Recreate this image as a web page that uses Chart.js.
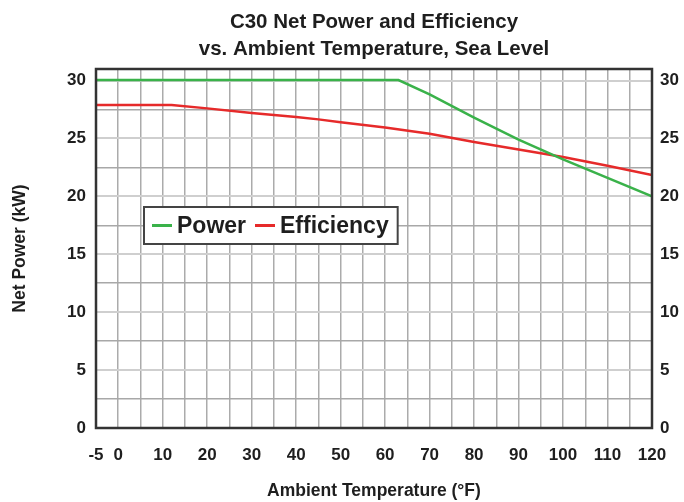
<!DOCTYPE html>
<html>
<head>
<meta charset="utf-8">
<script src="https://cdn.jsdelivr.net/npm/chart.js@4"></script>
<style>
  html, body { margin: 0; padding: 0; background: #fff; }
  #wrap { width: 684px; height: 502px; }
</style>
</head>
<body>
<div id="wrap"><canvas id="myChart" width="684" height="502"></canvas></div>
<script>
// values
const powerTemps = [-5, 63, 70, 80, 90, 100, 110, 120];
const powerKw = [30.05, 30.05, 28.8, 26.8, 24.9, 23.2, 21.6, 20.0];
const effTemps = [-5, 12, 20, 30, 40, 45, 50, 60, 70, 80, 90, 100, 110, 120];
const effValues = [27.9, 27.9, 27.6, 27.2, 26.85, 26.65, 26.4, 25.95, 25.4, 24.7, 24.05, 23.4, 22.65, 21.85];
const xLabelled = [-5, 0, 10, 20, 30, 40, 50, 60, 70, 80, 90, 100, 110, 120];
const yLabelled = [0, 5, 10, 15, 20, 25, 30];

const titleLines = ["C30 Net Power and Efficiency", "vs. Ambient Temperature, Sea Level"];
const fontFamily = "'Liberation Sans', Arial, Helvetica, sans-serif";
const inkColor = "#1e1e1e";

// title, legend box and frame drawn by hand so they sit where the original has them
const decorations = {
  id: "decorations",
  afterDraw(chart) {
    const ctx = chart.ctx;
    const area = chart.chartArea;
    ctx.save();

    // frame round the plot area
    ctx.strokeStyle = "#333";
    ctx.lineWidth = 2.5;
    ctx.strokeRect(area.left, area.top, area.right - area.left, area.bottom - area.top);

    // title
    ctx.fillStyle = inkColor;
    ctx.font = "bold 20.5px " + fontFamily;
    ctx.textAlign = "center";
    ctx.textBaseline = "middle";
    const cx = (area.left + area.right) / 2;
    titleLines.forEach((line, i) => ctx.fillText(line, cx, 22 + i * 27));

    // legend
    const bx = area.left + 48, by = area.top + 138, bh = 37;
    ctx.font = "bold 23px " + fontFamily;
    let x = bx + 8;
    const items = chart.data.datasets.map(ds => {
      const w = ctx.measureText(ds.label).width;
      return { ds, w };
    });
    let total = 8;
    items.forEach(it => { total += 20 + 5 + it.w + 9; });
    ctx.fillStyle = "#fff";
    ctx.fillRect(bx, by, total, bh);
    ctx.strokeStyle = "#444";
    ctx.lineWidth = 2;
    ctx.strokeRect(bx, by, total, bh);
    ctx.textAlign = "left";
    const my = by + bh / 2 + 1;
    items.forEach(it => {
      ctx.strokeStyle = it.ds.borderColor;
      ctx.lineWidth = 3;
      ctx.beginPath();
      ctx.moveTo(x, my - 1);
      ctx.lineTo(x + 20, my - 1);
      ctx.stroke();
      x += 25;
      ctx.fillStyle = inkColor;
      ctx.fillText(it.ds.label, x, my);
      x += it.w + 9;
    });
    ctx.restore();
  }
};

const data = {
  datasets: [
    {
      label: "Power",
      data: powerTemps.map((t, i) => ({ x: t, y: powerKw[i] })),
      borderColor: "rgb(58, 178, 74)",
      borderWidth: 2.5,
      pointRadius: 0,
      tension: 0,
      yAxisID: "y"
    },
    {
      label: "Efficiency",
      data: effTemps.map((t, i) => ({ x: t, y: effValues[i] })),
      borderColor: "rgb(230, 42, 42)",
      borderWidth: 2.5,
      pointRadius: 0,
      tension: 0,
      yAxisID: "y"
    }
  ]
};

const tickFont = { family: fontFamily, size: 17, weight: "bold" };

const config = {
  type: "line",
  data: data,
  plugins: [decorations],
  options: {
    responsive: false,
    animation: false,
    layout: { padding: { top: 69, left: 0, right: 0, bottom: 0 } },
    plugins: {
      legend: { display: false },
      title: { display: false },
      tooltip: { enabled: false }
    },
    scales: {
      x: {
        type: "linear",
        min: -5,
        max: 120,
        afterFit: s => { s.height = 74; },
        border: { display: false },
        grid: { color: "#ababab", lineWidth: 1.5, drawTicks: false },
        ticks: {
          stepSize: 5,
          autoSkip: false,
          maxRotation: 0,
          padding: 17,
          color: inkColor,
          font: tickFont,
          callback: v => (xLabelled.includes(v) ? String(v) : "")
        },
        title: {
          display: true,
          text: "Ambient Temperature (°F)",
          color: inkColor,
          font: { family: fontFamily, size: 17.5, weight: "bold", lineHeight: 1.2 },
          padding: { top: 0, bottom: 0 }
        }
      },
      y: {
        position: "left",
        min: 0,
        max: 31,
        afterFit: s => { s.width = 96; },
        border: { display: false },
        grid: {
          drawTicks: false,
          color: ctx => (ctx.tick && ctx.tick.value % 5 === 0 ? "#cfcfcf" : "#a8a8a8"),
          lineWidth: ctx => (ctx.tick && ctx.tick.value % 5 === 0 ? 2 : 1.5)
        },
        ticks: {
          stepSize: 2.5,
          includeBounds: false,
          autoSkip: false,
          padding: 10,
          color: inkColor,
          font: tickFont,
          callback: v => (yLabelled.includes(v) ? String(v) : "")
        },
        title: {
          display: true,
          text: "Net Power (kW)",
          color: inkColor,
          font: { family: fontFamily, size: 17.5, weight: "bold", lineHeight: 1.2 },
          padding: { top: 10, bottom: 0 }
        }
      },
      y2: {
        position: "right",
        min: 0,
        max: 31,
        afterFit: s => { s.width = 32; },
        border: { display: false },
        grid: { display: false, drawTicks: false },
        ticks: {
          stepSize: 2.5,
          includeBounds: false,
          autoSkip: false,
          padding: 8,
          color: inkColor,
          font: tickFont,
          callback: v => (yLabelled.includes(v) ? String(v) : "")
        }
      }
    }
  }
};

const ctx = document.getElementById("myChart").getContext("2d");
new Chart(ctx, config);
</script>
</body>
</html>
